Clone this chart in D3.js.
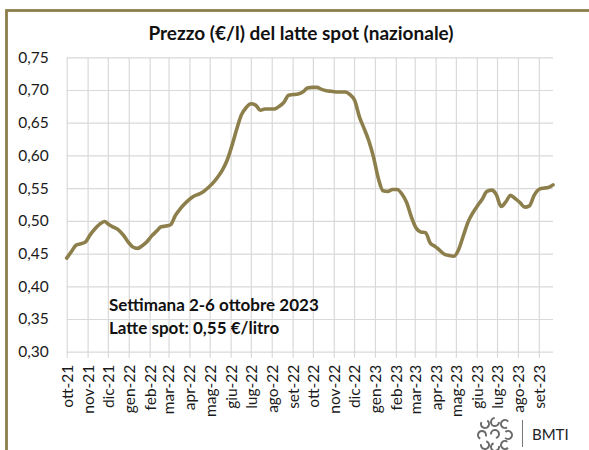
<!DOCTYPE html>
<html>
<head>
<meta charset="utf-8">
<script src="https://cdn.jsdelivr.net/npm/d3@7"></script>
<style>
  html, body { margin: 0; padding: 0; background: #fff; }
  svg { display: block; font-family: Lato, "Open Sans", sans-serif; }
</style>
</head>
<body>
<svg id="chart" width="589" height="450"></svg>
<script>
// ---- data ----
const titleText = "Prezzo (€/l) del latte spot (nazionale)";
const noteLines = ["Settimana 2-6 ottobre 2023", "Latte spot: 0,55 €/litro"];
const firstWeek = new Date(2021, 9, 1);
const prices = [
  0.443, 0.453, 0.463, 0.465, 0.468, 0.479, 0.488, 0.495, 0.499, 0.494,
  0.490, 0.486, 0.478, 0.468, 0.460, 0.458, 0.462, 0.468, 0.477, 0.484,
  0.491, 0.492, 0.494, 0.508, 0.518, 0.526, 0.533, 0.538, 0.541, 0.545,
  0.551, 0.558, 0.567, 0.578, 0.593, 0.615, 0.640, 0.662, 0.673, 0.679,
  0.677, 0.669, 0.671, 0.671, 0.671, 0.675, 0.681, 0.692, 0.693, 0.694,
  0.697, 0.703, 0.704, 0.704, 0.701, 0.699, 0.698, 0.697, 0.697, 0.697,
  0.693, 0.684, 0.659, 0.641, 0.622, 0.597, 0.565, 0.546, 0.545, 0.548,
  0.548, 0.541, 0.528, 0.506, 0.489, 0.483, 0.482, 0.466, 0.461, 0.455,
  0.449, 0.447, 0.446, 0.456, 0.477, 0.498, 0.512, 0.523, 0.533, 0.545,
  0.547, 0.540, 0.522, 0.529, 0.539, 0.534, 0.528, 0.521, 0.523, 0.539,
  0.548, 0.550, 0.551, 0.555
];
const monthLabels = ["ott-21","nov-21","dic-21","gen-22","feb-22","mar-22","apr-22","mag-22",
  "giu-22","lug-22","ago-22","set-22","ott-22","nov-22","dic-22","gen-23","feb-23","mar-23",
  "apr-23","mag-23","giu-23","lug-23","ago-23","set-23"];
const yTicks = [0.30, 0.35, 0.40, 0.45, 0.50, 0.55, 0.60, 0.65, 0.70, 0.75];

const weeks = prices.map((v, i) => ({ date: d3.timeDay.offset(firstWeek, 7 * i), value: v }));
const monthDates = monthLabels.map((l, k) => new Date(2021, 9 + k, 1));

// ---- layout ----
const svg = d3.select("#chart");
const lineColor = "#8c7f4b";
const gridColor = "#d9d9d9";
const pLeft = 66.7, pRight = 553, pTop = 57.3, pBottom = 351.7;

const x = d3.scaleTime().domain([weeks[0].date, weeks[weeks.length - 1].date]).range([pLeft, pRight]);
const y = d3.scaleLinear().domain([0.30, 0.75]).range([pBottom, pTop]);

// frame
svg.append("rect").attr("x", 6.5).attr("y", 10.5).attr("width", 700).attr("height", 600)
  .attr("fill", "none").attr("stroke", lineColor).attr("stroke-width", 2.8);

// title
svg.append("text").attr("x", 301).attr("y", 40).attr("text-anchor", "middle")
  .attr("font-size", 19).attr("font-weight", 700).attr("fill", "#111").text(titleText);

// horizontal grid via y axis
const yAxis = d3.axisLeft(y).tickValues(yTicks).tickSize(-(pRight - pLeft))
  .tickFormat(d => d3.format(".2f")(d).replace(".", ","));
const gy = svg.append("g").attr("transform", `translate(${pLeft},0)`).call(yAxis);
gy.select(".domain").remove();
gy.selectAll(".tick line").attr("stroke", gridColor).attr("stroke-width", 1.2);
gy.selectAll(".tick text").attr("x", -18).attr("font-size", 15.5).attr("fill", "#1a1a1a")
  .attr("font-family", "Lato, sans-serif");

// vertical grid via x axis
const xAxis = d3.axisBottom(x).tickValues(monthDates).tickSize(-(pBottom - pTop) - 6)
  .tickFormat((d, i) => monthLabels[i]);
const gx = svg.append("g").attr("transform", `translate(0,${pBottom + 6})`).call(xAxis);
gx.select(".domain").remove();
gx.selectAll(".tick line").attr("stroke", gridColor).attr("stroke-width", 1.2);
gx.selectAll(".tick text")
  .attr("transform", "rotate(-90)")
  .attr("text-anchor", "end")
  .attr("x", -7).attr("y", 0).attr("dy", "0.35em")
  .attr("font-size", 15.5).attr("fill", "#1a1a1a")
  .attr("font-family", "Lato, sans-serif");

// line
const line = d3.line().x(d => x(d.date)).y(d => y(d.value)).curve(d3.curveMonotoneX);
svg.append("path").datum(weeks).attr("d", line).attr("fill", "none")
  .attr("stroke", lineColor).attr("stroke-width", 3.6).attr("stroke-linejoin", "round")
  .attr("stroke-linecap", "round");

// annotation
noteLines.forEach((t, i) => {
  svg.append("text").attr("x", 109).attr("y", 311 + i * 23)
    .attr("font-size", 17).attr("font-weight", 700).attr("fill", "#111").text(t);
});

// logo
const logo = svg.append("g").attr("transform", "translate(495,434)")
  .attr("fill", "none").attr("stroke", "#6a6a6a").attr("stroke-width", 2);
const spots = [[-10,-10],[0,-12],[10,-10],[-13,1],[0,0],[13,1],[-10,11],[0,13],[10,11]];
spots.forEach(([dx, dy], i) => {
  const arc = d3.arc().innerRadius(4).outerRadius(4)
    .startAngle(0.6 + i).endAngle(0.6 + i + 4.6);
  logo.append("path").attr("transform", `translate(${dx},${dy})`).attr("d", arc());
});
svg.append("line").attr("x1", 522.5).attr("x2", 522.5).attr("y1", 420).attr("y2", 447)
  .attr("stroke", "#777").attr("stroke-width", 1);
svg.append("text").attr("x", 532).attr("y", 440).attr("font-size", 15)
  .attr("fill", "#222").attr("font-family", "Lato, sans-serif").text("BMTI");
</script>
</body>
</html>
